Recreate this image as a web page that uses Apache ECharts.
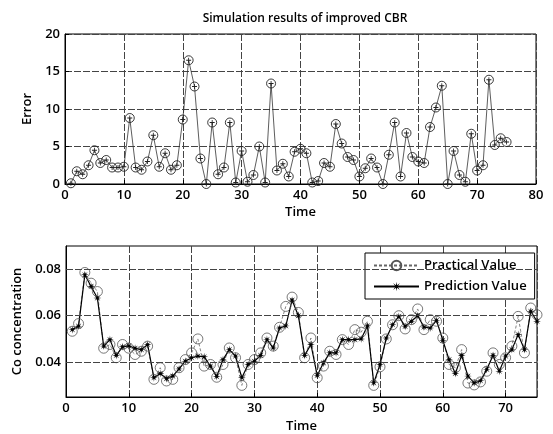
<!DOCTYPE html>
<html>
<head>
<meta charset="utf-8">
<script src="https://cdn.jsdelivr.net/npm/echarts@6/dist/echarts.min.js"></script>
<style>
html,body{margin:0;padding:0;background:#fff;}
#c{width:553px;height:434px;}
</style>
</head>
<body>
<div id="c"></div>
<script>
// ---- data ----
var timeIdx = [1,2,3,4,5,6,7,8,9,10,11,12,13,14,15,16,17,18,19,20,21,22,23,24,25,26,27,28,29,30,31,32,33,34,35,36,37,38,39,40,41,42,43,44,45,46,47,48,49,50,51,52,53,54,55,56,57,58,59,60,61,62,63,64,65,66,67,68,69,70,71,72,73,74,75];
var errorValues = [0.1,1.7,1.3,2.5,4.5,2.8,3.2,2.2,2.2,2.3,8.8,2.2,1.9,3.0,6.5,2.3,4.1,1.9,2.5,8.6,16.5,13.0,3.4,0.0,8.2,1.3,2.2,8.2,0.2,4.4,0.3,1.2,5.0,0.2,13.4,1.8,2.7,1.0,4.3,4.7,4.1,0.2,0.4,2.8,2.3,8.0,5.4,3.6,3.2,1.0,2.1,3.4,2.2,0.0,3.9,8.2,1.0,6.8,3.6,3.0,2.8,7.6,10.2,13.1,0.0,4.4,1.2,0.3,6.7,1.8,2.5,13.9,5.2,6.1,5.6];
var practicalValues = [0.0533,0.0566,0.0786,0.0740,0.0704,0.0460,0.0476,0.0419,0.0476,0.0460,0.0433,0.0447,0.0469,0.0326,0.0376,0.0319,0.0326,0.0376,0.0411,0.0440,0.0500,0.0383,0.0390,0.0335,0.0390,0.0461,0.0419,0.0300,0.0390,0.0411,0.0440,0.0504,0.0469,0.0550,0.0640,0.0680,0.0614,0.0419,0.0504,0.0333,0.0383,0.0447,0.0433,0.0497,0.0476,0.0540,0.0529,0.0576,0.0300,0.0380,0.0500,0.0561,0.0600,0.0543,0.0583,0.0629,0.0540,0.0583,0.0576,0.0504,0.0390,0.0376,0.0454,0.0310,0.0302,0.0315,0.0361,0.0440,0.0390,0.0419,0.0469,0.0597,0.0440,0.0633,0.0604];
var predictionValues = [0.0540,0.0555,0.0776,0.0726,0.0676,0.0469,0.0497,0.0429,0.0466,0.0470,0.0460,0.0454,0.0476,0.0333,0.0351,0.0329,0.0340,0.0371,0.0404,0.0419,0.0426,0.0423,0.0383,0.0338,0.0411,0.0454,0.0426,0.0333,0.0390,0.0404,0.0429,0.0497,0.0461,0.0547,0.0556,0.0667,0.0600,0.0429,0.0476,0.0343,0.0397,0.0440,0.0440,0.0497,0.0497,0.0497,0.0500,0.0556,0.0311,0.0390,0.0504,0.0561,0.0597,0.0554,0.0576,0.0600,0.0551,0.0547,0.0580,0.0494,0.0411,0.0351,0.0429,0.0340,0.0311,0.0320,0.0369,0.0429,0.0361,0.0426,0.0454,0.0519,0.0454,0.0619,0.0576];
var concTickLabels = [0.04, 0.06, 0.08];
var seriesNames = ['Practical Value', 'Prediction Value'];
var titleText = 'Simulation results of improved CBR';

function pairs(xs, ys){ return xs.map(function(x,i){ return [x, ys[i]]; }); }

var FONT = '"Open Sans", "DejaVu Sans", sans-serif';
var starPath = 'path://M10,0 L2.77,1.15 L7.07,7.07 L1.15,2.77 L0,10 L-1.15,2.77 L-7.07,7.07 L-2.77,1.15 L-10,0 L-2.77,-1.15 L-7.07,-7.07 L-1.15,-2.77 L0,-10 L1.15,-2.77 L7.07,-7.07 L2.77,-1.15 Z';
var plusPath = 'path://M-1,-6 L1,-6 L1,-1 L6,-1 L6,1 L1,1 L1,6 L-1,6 L-1,1 L-6,1 L-6,-1 L-1,-1 Z';
var gridLine = {show:true, lineStyle:{color:'#444', width:1, type:[7,2]}};
var labelStyle = {color:'#000', fontFamily:FONT, fontSize:13, fontWeight:600};
var nameStyle = {color:'#000', fontFamily:FONT, fontSize:13, fontWeight:600};

var chart = echarts.init(document.getElementById('c'), null, {renderer:'canvas'});
chart.setOption({
  backgroundColor:'#fff',
  animation:false,
  title:{
    text:titleText, left:300, top:8, textAlign:'center',
    textStyle:{fontFamily:FONT, fontSize:12, fontWeight:600, color:'#000'}
  },
  legend:{
    data:seriesNames,
    left:365, top:253,
    orient:'vertical',
    itemWidth:45, itemHeight:12, itemGap:8,
    padding:[6,8,6,8],
    backgroundColor:'#fff',
    borderColor:'#000', borderWidth:1,
    textStyle:{fontFamily:FONT, fontSize:13, fontWeight:600, color:'#000'}
  },
  grid:[
    {left:65, top:34, width:471, height:150, show:true, borderColor:'#000', borderWidth:1},
    {left:66, top:246, width:471, height:151, show:true, borderColor:'#000', borderWidth:1}
  ],
  xAxis:[
    {type:'value', gridIndex:0, min:0, max:80, interval:10,
     name:'Time', nameLocation:'middle', nameGap:22, nameTextStyle:nameStyle,
     axisLine:{lineStyle:{color:'#000'}}, axisTick:{inside:true, length:4, lineStyle:{color:'#000'}},
     axisLabel:Object.assign({margin:5}, labelStyle), splitLine:gridLine},
    {type:'value', gridIndex:1, min:0, max:75, interval:10,
     name:'Time', nameLocation:'middle', nameGap:23, nameTextStyle:nameStyle,
     axisLine:{lineStyle:{color:'#000'}}, axisTick:{inside:true, length:4, lineStyle:{color:'#000'}},
     axisLabel:Object.assign({margin:5, showMaxLabel:false}, labelStyle), splitLine:gridLine}
  ],
  yAxis:[
    {type:'value', gridIndex:0, min:0, max:20, interval:5,
     name:'Error', nameLocation:'middle', nameGap:30, nameTextStyle:nameStyle,
     axisLine:{lineStyle:{color:'#000'}}, axisTick:{inside:true, length:4, lineStyle:{color:'#000'}},
     axisLabel:Object.assign({margin:5}, labelStyle), splitLine:gridLine},
    {type:'value', gridIndex:1, min:0.025, max:0.09, interval:0.005,
     name:'Co concentration', nameLocation:'middle', nameGap:40, nameTextStyle:nameStyle,
     axisLine:{lineStyle:{color:'#000'}}, axisTick:{show:false},
     axisLabel:Object.assign({margin:5, formatter:function(v){
        for (var i=0;i<concTickLabels.length;i++){ if (Math.abs(v-concTickLabels[i])<1e-9) return concTickLabels[i].toFixed(2); }
        return '';
     }}, labelStyle),
     splitLine:{show:false}}
  ],
  series:[
    {type:'line', name:'Error', xAxisIndex:0, yAxisIndex:0,
     data:pairs(timeIdx, errorValues),
     symbol:'circle', symbolSize:9, showSymbol:true, clip:false,
     lineStyle:{color:'#333', width:0.8},
     itemStyle:{color:'rgba(255,255,255,0)', borderColor:'#222', borderWidth:0.9}},
    {type:'line', name:'ErrorMark', xAxisIndex:0, yAxisIndex:0,
     data:pairs(timeIdx, errorValues),
     symbol:plusPath, symbolSize:5, clip:false, lineStyle:{width:0, opacity:0},
     itemStyle:{color:'#222'}},
    {type:'line', name:seriesNames[0], xAxisIndex:1, yAxisIndex:1,
     data:pairs(timeIdx, practicalValues),
     symbol:'circle', symbolSize:10, showSymbol:true, clip:false,
     lineStyle:{color:'#666', width:0.8, type:[3,2]},
     itemStyle:{color:'rgba(255,255,255,0)', borderColor:'#555', borderWidth:0.8},
     markLine:{silent:true, symbol:'none', label:{show:false},
       lineStyle:{color:'#444', width:1, type:[7,2]},
       data:concTickLabels.map(function(v){ return {yAxis:v}; })}},
    {type:'line', name:seriesNames[1], xAxisIndex:1, yAxisIndex:1,
     data:pairs(timeIdx, predictionValues),
     symbol:starPath, symbolSize:8,
     lineStyle:{color:'#000', width:1.2},
     itemStyle:{color:'#000'}}
  ]
});
</script>
</body>
</html>
